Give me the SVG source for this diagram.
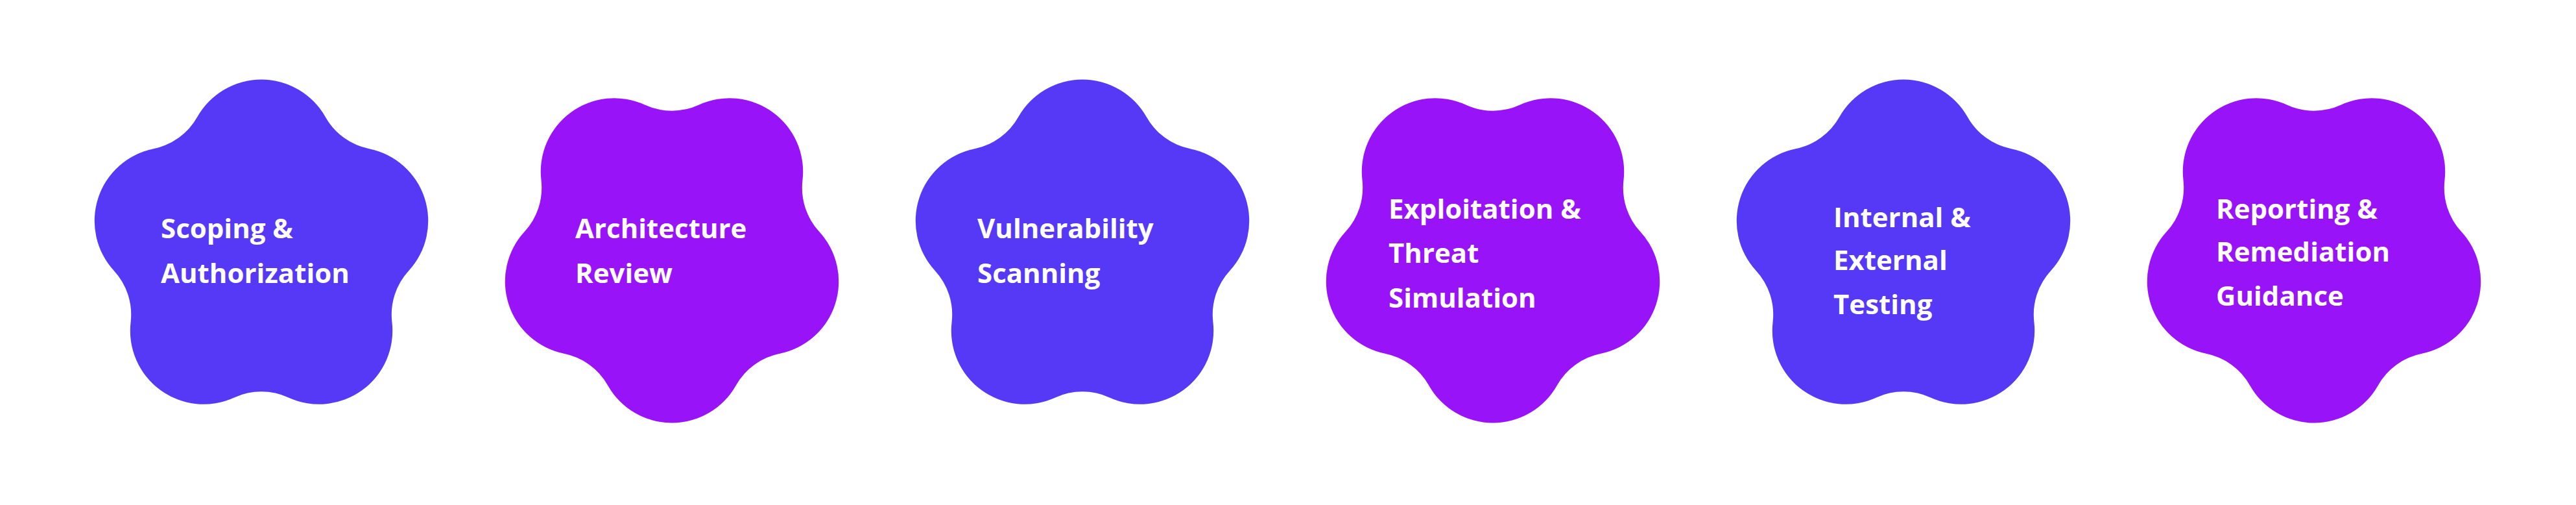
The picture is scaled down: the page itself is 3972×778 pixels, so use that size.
<svg xmlns="http://www.w3.org/2000/svg" width="3972" height="778" viewBox="0 0 3972 778">
<style>
.b{fill:#5639F6}.p{fill:#9913F9}
text{font-family:"Open Sans","Liberation Sans",sans-serif;font-weight:700;font-size:42px;fill:#fff}
</style>
<defs>
<path id="f" transform="scale(1.03)" d="M-95.8,-200.9 A110 110 0 0 1 95.8,-200.9 A97 97 0 0 0 161.5,-153.2 A110 110 0 0 1 220.7,29.1 A97 97 0 0 0 195.6,106.2 A110 110 0 0 1 40.6,218.9 A97 97 0 0 0 -40.6,218.9 A110 110 0 0 1 -195.6,106.2 A97 97 0 0 0 -220.7,29.1 A110 110 0 0 1 -161.5,-153.2 A97 97 0 0 0 -95.8,-200.9 Z"/>
</defs>
<rect width="3972" height="778" fill="#fff"/>
<g id="connectors"/>
<g id="n1"><use href="#f" class="b" transform="translate(403,387)"/><text x="248" y="367">Scoping &amp;</text><text x="248" y="436">Authorization</text></g>
<g id="n2"><use href="#f" class="p" transform="translate(1036,387) rotate(180)"/><text x="887" y="367">Architecture</text><text x="887" y="436">Review</text></g>
<g id="n3"><use href="#f" class="b" transform="translate(1669,387)"/><text x="1507" y="367">Vulnerability</text><text x="1507" y="436">Scanning</text></g>
<g id="n4"><use href="#f" class="p" transform="translate(2302,387) rotate(180)"/><text x="2141" y="337">Exploitation &amp;</text><text x="2141" y="405">Threat</text><text x="2141" y="474">Simulation</text></g>
<g id="n5"><use href="#f" class="b" transform="translate(2935,387)"/><text x="2827" y="350">Internal &amp;</text><text x="2827" y="416">External</text><text x="2827" y="484">Testing</text></g>
<g id="n6"><use href="#f" class="p" transform="translate(3568,387) rotate(180)"/><text x="3417" y="337">Reporting &amp;</text><text x="3417" y="403">Remediation</text><text x="3417" y="471">Guidance</text></g>
</svg>
